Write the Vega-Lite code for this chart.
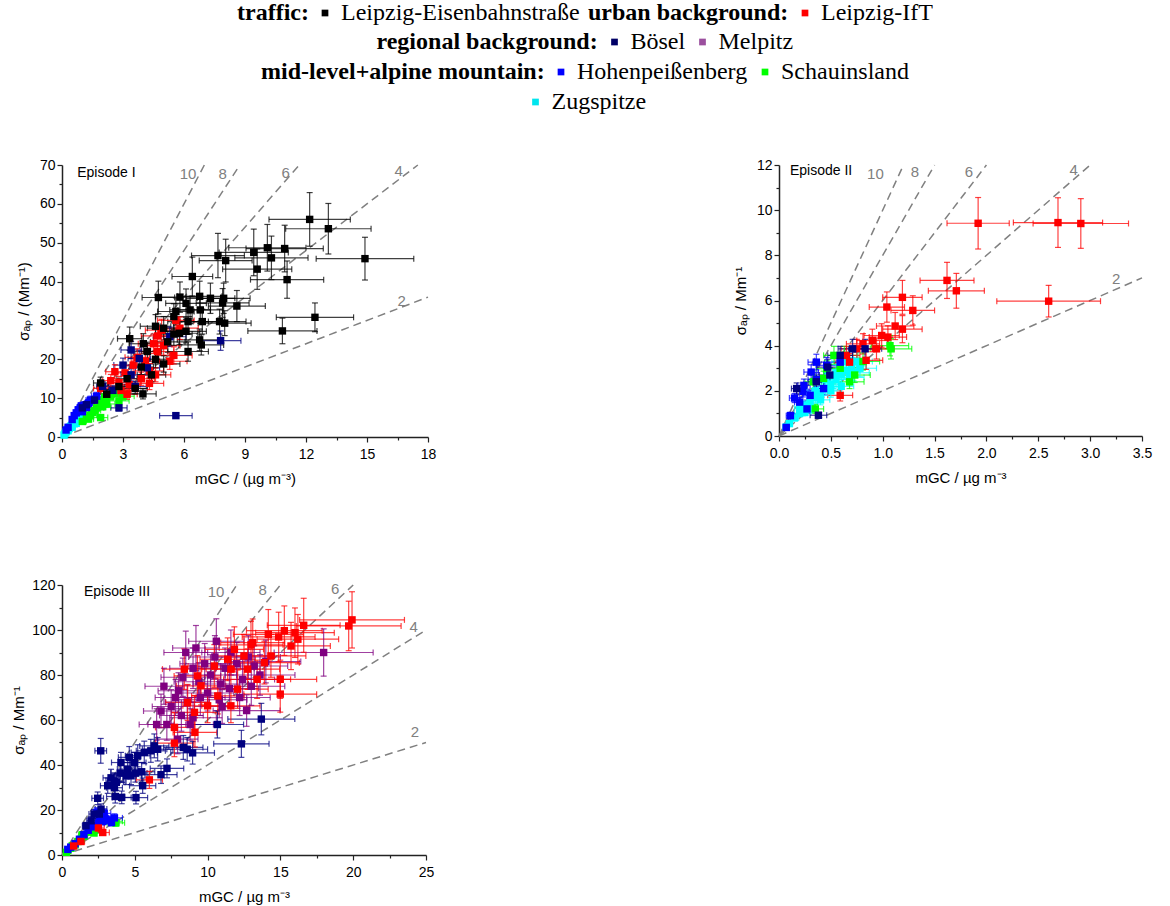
{
  "$schema": "https://vega.github.io/schema/vega-lite/v6.json",
  "padding": {"left": 11, "right": 5, "top": 1, "bottom": 5},
  "datasets": {
    "sites": [
      {"code": "LE", "site": "Leipzig-Eisenbahnstraße", "group": "traffic"},
      {"code": "LI", "site": "Leipzig-IfT", "group": "urban background"},
      {"code": "BO", "site": "Bösel", "group": "regional background"},
      {"code": "ME", "site": "Melpitz", "group": "regional background"},
      {"code": "HO", "site": "Hohenpeißenberg", "group": "mid-level+alpine mountain"},
      {"code": "SC", "site": "Schauinsland", "group": "mid-level+alpine mountain"},
      {"code": "ZU", "site": "Zugspitze", "group": "mid-level+alpine mountain"}
    ],
    "refs": [
      {"ep": 1, "k": 10, "x": 0, "y": 0, "x2": 7, "y2": 70},
      {"ep": 1, "k": 8, "x": 0, "y": 0, "x2": 8.75, "y2": 70},
      {"ep": 1, "k": 6, "x": 0, "y": 0, "x2": 11.667, "y2": 70},
      {"ep": 1, "k": 4, "x": 0, "y": 0, "x2": 17.5, "y2": 70},
      {"ep": 1, "k": 2, "x": 0, "y": 0, "x2": 18, "y2": 36},
      {"ep": 2, "k": 10, "x": 0, "y": 0, "x2": 1.2, "y2": 12},
      {"ep": 2, "k": 8, "x": 0, "y": 0, "x2": 1.5, "y2": 12},
      {"ep": 2, "k": 6, "x": 0, "y": 0, "x2": 2, "y2": 12},
      {"ep": 2, "k": 4, "x": 0, "y": 0, "x2": 3, "y2": 12},
      {"ep": 2, "k": 2, "x": 0, "y": 0, "x2": 3.5, "y2": 7},
      {"ep": 3, "k": 10, "x": 0, "y": 0, "x2": 12, "y2": 120},
      {"ep": 3, "k": 8, "x": 0, "y": 0, "x2": 15, "y2": 120},
      {"ep": 3, "k": 6, "x": 0, "y": 0, "x2": 20, "y2": 120},
      {"ep": 3, "k": 4, "x": 0, "y": 0, "x2": 25, "y2": 100},
      {"ep": 3, "k": 2, "x": 0, "y": 0, "x2": 25, "y2": 50}
    ],
    "notes": [
      {"ep": 1, "kind": "ref", "x": 6.2, "y": 67.7, "text": "10"},
      {"ep": 1, "kind": "ref", "x": 7.9, "y": 67.7, "text": "8"},
      {"ep": 1, "kind": "ref", "x": 11.0, "y": 67.9, "text": "6"},
      {"ep": 1, "kind": "ref", "x": 16.56, "y": 68.4, "text": "4"},
      {"ep": 1, "kind": "ref", "x": 16.7, "y": 35.1, "text": "2"},
      {"ep": 1, "kind": "title", "x": 0.75, "y": 67.9, "text": "Episode I"},
      {"ep": 2, "kind": "ref", "x": 0.93, "y": 11.6, "text": "10"},
      {"ep": 2, "kind": "ref", "x": 1.31, "y": 11.7, "text": "8"},
      {"ep": 2, "kind": "ref", "x": 1.83, "y": 11.7, "text": "6"},
      {"ep": 2, "kind": "ref", "x": 2.84, "y": 11.8, "text": "4"},
      {"ep": 2, "kind": "ref", "x": 3.25, "y": 6.96, "text": "2"},
      {"ep": 2, "kind": "title", "x": 0.106, "y": 11.73, "text": "Episode II"},
      {"ep": 3, "kind": "ref", "x": 10.58, "y": 116.9, "text": "10"},
      {"ep": 3, "kind": "ref", "x": 13.78, "y": 117.8, "text": "8"},
      {"ep": 3, "kind": "ref", "x": 18.77, "y": 118.1, "text": "6"},
      {"ep": 3, "kind": "ref", "x": 24.15, "y": 101.5, "text": "4"},
      {"ep": 3, "kind": "ref", "x": 24.24, "y": 54.75, "text": "2"},
      {"ep": 3, "kind": "title", "x": 1.51, "y": 116.9, "text": "Episode III"}
    ],
    "pts": [
      {"ep":1,"site":"ZU","x":0.1,"y":0.5,"xe":0.05,"ye":0.2},
      {"ep":1,"site":"ZU","x":0.15,"y":0.9,"xe":0.06,"ye":0.2},
      {"ep":1,"site":"ZU","x":0.2,"y":1.3,"xe":0.07,"ye":0.3},
      {"ep":1,"site":"ZU","x":0.25,"y":1.7,"xe":0.08,"ye":0.3},
      {"ep":1,"site":"ZU","x":0.3,"y":2.1,"xe":0.08,"ye":0.3},
      {"ep":1,"site":"ZU","x":0.35,"y":2.2,"xe":0.09,"ye":0.3},
      {"ep":1,"site":"ZU","x":0.4,"y":2.6,"xe":0.1,"ye":0.4},
      {"ep":1,"site":"ZU","x":0.45,"y":2.9,"xe":0.1,"ye":0.4},
      {"ep":1,"site":"ZU","x":0.5,"y":3.1,"xe":0.11,"ye":0.4},
      {"ep":1,"site":"ZU","x":0.55,"y":3.6,"xe":0.12,"ye":0.4},
      {"ep":1,"site":"ZU","x":0.6,"y":3.4,"xe":0.12,"ye":0.4},
      {"ep":1,"site":"ZU","x":0.65,"y":4.2,"xe":0.13,"ye":0.5},
      {"ep":1,"site":"ZU","x":0.7,"y":4.0,"xe":0.13,"ye":0.5},
      {"ep":1,"site":"ZU","x":0.75,"y":4.6,"xe":0.14,"ye":0.5},
      {"ep":1,"site":"ZU","x":0.8,"y":4.4,"xe":0.15,"ye":0.5},
      {"ep":1,"site":"ZU","x":0.85,"y":5.0,"xe":0.15,"ye":0.5},
      {"ep":1,"site":"ZU","x":0.9,"y":5.3,"xe":0.16,"ye":0.6},
      {"ep":1,"site":"ZU","x":0.3,"y":1.6,"xe":0.08,"ye":0.3},
      {"ep":1,"site":"ZU","x":0.5,"y":2.5,"xe":0.1,"ye":0.3},
      {"ep":1,"site":"ZU","x":0.7,"y":3.5,"xe":0.13,"ye":0.4},
      {"ep":1,"site":"SC","x":1.0,"y":4.0,"xe":0.2,"ye":0.5},
      {"ep":1,"site":"SC","x":1.2,"y":5.0,"xe":0.25,"ye":0.6},
      {"ep":1,"site":"SC","x":1.4,"y":5.6,"xe":0.3,"ye":0.6},
      {"ep":1,"site":"SC","x":1.5,"y":6.3,"xe":0.3,"ye":0.7},
      {"ep":1,"site":"SC","x":1.7,"y":7.5,"xe":0.35,"ye":0.8},
      {"ep":1,"site":"SC","x":1.9,"y":9.2,"xe":0.4,"ye":0.9},
      {"ep":1,"site":"SC","x":1.9,"y":5.0,"xe":0.35,"ye":0.6},
      {"ep":1,"site":"SC","x":2.1,"y":10.2,"xe":0.4,"ye":1.0},
      {"ep":1,"site":"SC","x":2.2,"y":8.5,"xe":0.4,"ye":0.9},
      {"ep":1,"site":"SC","x":2.4,"y":10.5,"xe":0.45,"ye":1.0},
      {"ep":1,"site":"SC","x":2.6,"y":11.5,"xe":0.5,"ye":1.1},
      {"ep":1,"site":"SC","x":2.8,"y":9.3,"xe":0.5,"ye":1.0},
      {"ep":1,"site":"SC","x":3.0,"y":10.5,"xe":0.55,"ye":1.0},
      {"ep":1,"site":"SC","x":1.6,"y":6.8,"xe":0.3,"ye":0.7},
      {"ep":1,"site":"SC","x":2.0,"y":7.8,"xe":0.4,"ye":0.8},
      {"ep":1,"site":"SC","x":1.3,"y":4.6,"xe":0.25,"ye":0.5},
      {"ep":1,"site":"HO","x":0.2,"y":1.8,"xe":0.06,"ye":0.3},
      {"ep":1,"site":"HO","x":0.3,"y":2.5,"xe":0.07,"ye":0.4},
      {"ep":1,"site":"HO","x":0.5,"y":4.5,"xe":0.1,"ye":0.5},
      {"ep":1,"site":"HO","x":0.6,"y":5.5,"xe":0.12,"ye":0.6},
      {"ep":1,"site":"HO","x":0.7,"y":6.2,"xe":0.13,"ye":0.7},
      {"ep":1,"site":"HO","x":0.8,"y":7.0,"xe":0.14,"ye":0.7},
      {"ep":1,"site":"HO","x":0.9,"y":7.5,"xe":0.15,"ye":0.8},
      {"ep":1,"site":"HO","x":1.0,"y":6.5,"xe":0.16,"ye":0.7},
      {"ep":1,"site":"HO","x":1.1,"y":8.2,"xe":0.17,"ye":0.8},
      {"ep":1,"site":"HO","x":1.3,"y":8.7,"xe":0.2,"ye":0.9},
      {"ep":1,"site":"HO","x":1.4,"y":9.5,"xe":0.22,"ye":1.0},
      {"ep":1,"site":"HO","x":1.7,"y":10.5,"xe":0.25,"ye":1.0},
      {"ep":1,"site":"HO","x":1.2,"y":7.6,"xe":0.18,"ye":0.8},
      {"ep":1,"site":"HO","x":0.95,"y":8.0,"xe":0.15,"ye":0.8},
      {"ep":1,"site":"LI","x":1.9,"y":12.5,"xe":0.35,"ye":1.4},
      {"ep":1,"site":"LI","x":2.4,"y":14.5,"xe":0.4,"ye":1.6},
      {"ep":1,"site":"LI","x":2.6,"y":16.8,"xe":0.45,"ye":1.8},
      {"ep":1,"site":"LI","x":2.9,"y":12.0,"xe":0.5,"ye":1.4},
      {"ep":1,"site":"LI","x":3.1,"y":16.5,"xe":0.5,"ye":1.8},
      {"ep":1,"site":"LI","x":3.3,"y":13.5,"xe":0.55,"ye":1.5},
      {"ep":1,"site":"LI","x":3.7,"y":20.5,"xe":0.6,"ye":2.2},
      {"ep":1,"site":"LI","x":3.9,"y":15.0,"xe":0.65,"ye":1.7},
      {"ep":1,"site":"LI","x":4.3,"y":13.8,"xe":0.7,"ye":1.6},
      {"ep":1,"site":"LI","x":4.3,"y":17.0,"xe":0.7,"ye":1.9},
      {"ep":1,"site":"LI","x":4.5,"y":24.0,"xe":0.75,"ye":2.5},
      {"ep":1,"site":"LI","x":4.6,"y":16.0,"xe":0.75,"ye":1.8},
      {"ep":1,"site":"LI","x":4.7,"y":22.0,"xe":0.8,"ye":2.3},
      {"ep":1,"site":"LI","x":4.7,"y":26.0,"xe":0.8,"ye":2.7},
      {"ep":1,"site":"LI","x":4.9,"y":27.5,"xe":0.8,"ye":2.8},
      {"ep":1,"site":"LI","x":5.3,"y":19.5,"xe":0.85,"ye":2.1},
      {"ep":1,"site":"LI","x":5.5,"y":21.0,"xe":0.9,"ye":2.2},
      {"ep":1,"site":"LI","x":5.8,"y":28.0,"xe":0.9,"ye":2.9},
      {"ep":1,"site":"LI","x":5.6,"y":30.0,"xe":0.9,"ye":3.0},
      {"ep":1,"site":"LI","x":3.5,"y":18.5,"xe":0.6,"ye":2.0},
      {"ep":1,"site":"LI","x":2.8,"y":14.0,"xe":0.5,"ye":1.6},
      {"ep":1,"site":"LI","x":4.1,"y":19.5,"xe":0.7,"ye":2.1},
      {"ep":1,"site":"LI","x":3.2,"y":11.0,"xe":0.5,"ye":1.3},
      {"ep":1,"site":"LI","x":5.0,"y":23.5,"xe":0.8,"ye":2.5},
      {"ep":1,"site":"BO","x":1.0,"y":7.5,"xe":0.15,"ye":0.7},
      {"ep":1,"site":"BO","x":1.2,"y":8.3,"xe":0.2,"ye":0.8},
      {"ep":1,"site":"BO","x":1.6,"y":9.5,"xe":0.25,"ye":0.9},
      {"ep":1,"site":"BO","x":2.0,"y":13.0,"xe":0.3,"ye":1.2},
      {"ep":1,"site":"BO","x":2.5,"y":12.0,"xe":0.35,"ye":1.2},
      {"ep":1,"site":"BO","x":2.8,"y":7.5,"xe":0.4,"ye":0.8},
      {"ep":1,"site":"BO","x":3.0,"y":18.5,"xe":0.45,"ye":1.8},
      {"ep":1,"site":"BO","x":3.4,"y":16.0,"xe":0.5,"ye":1.6},
      {"ep":1,"site":"BO","x":3.4,"y":22.4,"xe":0.5,"ye":2.2},
      {"ep":1,"site":"BO","x":3.6,"y":13.0,"xe":0.55,"ye":1.3},
      {"ep":1,"site":"BO","x":3.8,"y":20.2,"xe":0.55,"ye":2.0},
      {"ep":1,"site":"BO","x":4.2,"y":17.8,"xe":0.6,"ye":1.8},
      {"ep":1,"site":"BO","x":5.3,"y":25.8,"xe":0.8,"ye":2.5},
      {"ep":1,"site":"BO","x":5.6,"y":5.5,"xe":0.8,"ye":0.6},
      {"ep":1,"site":"BO","x":7.8,"y":24.8,"xe":1.0,"ye":2.5},
      {"ep":1,"site":"LE","x":1.9,"y":13.9,"xe":0.35,"ye":1.5},
      {"ep":1,"site":"LE","x":2.2,"y":11.0,"xe":0.4,"ye":1.2},
      {"ep":1,"site":"LE","x":2.8,"y":13.0,"xe":0.5,"ye":1.4},
      {"ep":1,"site":"LE","x":3.2,"y":15.0,"xe":0.5,"ye":1.6},
      {"ep":1,"site":"LE","x":3.33,"y":25.3,"xe":0.6,"ye":3.0},
      {"ep":1,"site":"LE","x":3.6,"y":12.5,"xe":0.6,"ye":1.4},
      {"ep":1,"site":"LE","x":3.9,"y":18.0,"xe":0.6,"ye":2.0},
      {"ep":1,"site":"LE","x":3.98,"y":11.1,"xe":0.65,"ye":1.3},
      {"ep":1,"site":"LE","x":4.0,"y":24.0,"xe":0.7,"ye":2.6},
      {"ep":1,"site":"LE","x":4.2,"y":22.0,"xe":0.7,"ye":2.4},
      {"ep":1,"site":"LE","x":4.4,"y":16.0,"xe":0.7,"ye":1.8},
      {"ep":1,"site":"LE","x":4.6,"y":20.0,"xe":0.75,"ye":2.2},
      {"ep":1,"site":"LE","x":4.6,"y":28.5,"xe":0.75,"ye":3.0},
      {"ep":1,"site":"LE","x":4.74,"y":35.9,"xe":0.8,"ye":4.2},
      {"ep":1,"site":"LE","x":5.0,"y":18.8,"xe":0.8,"ye":2.1},
      {"ep":1,"site":"LE","x":5.0,"y":28.0,"xe":0.8,"ye":3.0},
      {"ep":1,"site":"LE","x":5.2,"y":24.5,"xe":0.85,"ye":2.7},
      {"ep":1,"site":"LE","x":5.5,"y":26.5,"xe":0.9,"ye":2.9},
      {"ep":1,"site":"LE","x":5.5,"y":31.0,"xe":0.9,"ye":3.3},
      {"ep":1,"site":"LE","x":5.6,"y":32.3,"xe":0.9,"ye":3.5},
      {"ep":1,"site":"LE","x":5.78,"y":26.7,"xe":0.9,"ye":2.9},
      {"ep":1,"site":"LE","x":5.8,"y":36.0,"xe":0.95,"ye":3.9},
      {"ep":1,"site":"LE","x":6.1,"y":27.2,"xe":1.0,"ye":3.0},
      {"ep":1,"site":"LE","x":6.1,"y":34.4,"xe":1.0,"ye":3.7},
      {"ep":1,"site":"LE","x":6.2,"y":22.0,"xe":1.0,"ye":2.5},
      {"ep":1,"site":"LE","x":6.2,"y":29.7,"xe":1.0,"ye":3.2},
      {"ep":1,"site":"LE","x":6.3,"y":32.7,"xe":1.0,"ye":3.5},
      {"ep":1,"site":"LE","x":6.41,"y":41.3,"xe":1.0,"ye":5.0},
      {"ep":1,"site":"LE","x":6.77,"y":25.0,"xe":1.1,"ye":2.8},
      {"ep":1,"site":"LE","x":6.77,"y":36.2,"xe":1.1,"ye":3.9},
      {"ep":1,"site":"LE","x":6.8,"y":32.7,"xe":1.1,"ye":3.5},
      {"ep":1,"site":"LE","x":6.85,"y":23.7,"xe":1.1,"ye":2.6},
      {"ep":1,"site":"LE","x":6.9,"y":29.7,"xe":1.1,"ye":3.2},
      {"ep":1,"site":"LE","x":7.3,"y":35.7,"xe":1.2,"ye":3.9},
      {"ep":1,"site":"LE","x":7.67,"y":46.7,"xe":1.3,"ye":5.7},
      {"ep":1,"site":"LE","x":7.75,"y":29.7,"xe":1.3,"ye":3.2},
      {"ep":1,"site":"LE","x":7.9,"y":34.5,"xe":1.3,"ye":3.7},
      {"ep":1,"site":"LE","x":7.95,"y":35.7,"xe":1.3,"ye":3.9},
      {"ep":1,"site":"LE","x":8.0,"y":29.3,"xe":1.3,"ye":3.2},
      {"ep":1,"site":"LE","x":8.05,"y":45.4,"xe":1.3,"ye":5.5},
      {"ep":1,"site":"LE","x":8.6,"y":33.7,"xe":1.4,"ye":4.0},
      {"ep":1,"site":"LE","x":9.43,"y":47.5,"xe":1.7,"ye":6.0},
      {"ep":1,"site":"LE","x":9.6,"y":43.2,"xe":1.7,"ye":5.2},
      {"ep":1,"site":"LE","x":10.1,"y":48.7,"xe":1.9,"ye":6.0},
      {"ep":1,"site":"LE","x":10.3,"y":46.1,"xe":1.8,"ye":5.6},
      {"ep":1,"site":"LE","x":10.84,"y":27.3,"xe":1.7,"ye":3.3},
      {"ep":1,"site":"LE","x":10.95,"y":48.5,"xe":1.9,"ye":6.0},
      {"ep":1,"site":"LE","x":11.07,"y":40.5,"xe":1.8,"ye":4.8},
      {"ep":1,"site":"LE","x":12.18,"y":56.0,"xe":2.0,"ye":6.9},
      {"ep":1,"site":"LE","x":12.44,"y":30.8,"xe":1.9,"ye":3.7},
      {"ep":1,"site":"LE","x":13.1,"y":53.6,"xe":2.1,"ye":6.5},
      {"ep":1,"site":"LE","x":14.9,"y":45.9,"xe":2.4,"ye":5.5},
      {"ep":2,"site":"ZU","x":0.07,"y":0.4,"xe":0.03,"ye":0.08},
      {"ep":2,"site":"ZU","x":0.1,"y":0.55,"xe":0.03,"ye":0.1},
      {"ep":2,"site":"ZU","x":0.15,"y":0.8,"xe":0.04,"ye":0.12},
      {"ep":2,"site":"ZU","x":0.2,"y":1.0,"xe":0.05,"ye":0.15},
      {"ep":2,"site":"ZU","x":0.2,"y":1.25,"xe":0.05,"ye":0.18},
      {"ep":2,"site":"ZU","x":0.25,"y":1.05,"xe":0.06,"ye":0.15},
      {"ep":2,"site":"ZU","x":0.25,"y":1.35,"xe":0.06,"ye":0.2},
      {"ep":2,"site":"ZU","x":0.3,"y":1.5,"xe":0.07,"ye":0.22},
      {"ep":2,"site":"ZU","x":0.3,"y":1.2,"xe":0.07,"ye":0.18},
      {"ep":2,"site":"ZU","x":0.35,"y":1.7,"xe":0.08,"ye":0.25},
      {"ep":2,"site":"ZU","x":0.35,"y":2.0,"xe":0.08,"ye":0.28},
      {"ep":2,"site":"ZU","x":0.4,"y":1.6,"xe":0.09,"ye":0.22},
      {"ep":2,"site":"ZU","x":0.4,"y":1.9,"xe":0.09,"ye":0.27},
      {"ep":2,"site":"ZU","x":0.45,"y":2.1,"xe":0.1,"ye":0.3},
      {"ep":2,"site":"ZU","x":0.45,"y":2.5,"xe":0.1,"ye":0.33},
      {"ep":2,"site":"ZU","x":0.5,"y":2.0,"xe":0.1,"ye":0.28},
      {"ep":2,"site":"ZU","x":0.5,"y":2.3,"xe":0.11,"ye":0.3},
      {"ep":2,"site":"ZU","x":0.55,"y":2.5,"xe":0.12,"ye":0.32},
      {"ep":2,"site":"ZU","x":0.55,"y":2.8,"xe":0.12,"ye":0.35},
      {"ep":2,"site":"ZU","x":0.6,"y":2.2,"xe":0.12,"ye":0.3},
      {"ep":2,"site":"ZU","x":0.6,"y":2.7,"xe":0.13,"ye":0.35},
      {"ep":2,"site":"ZU","x":0.65,"y":2.9,"xe":0.13,"ye":0.37},
      {"ep":2,"site":"ZU","x":0.65,"y":3.3,"xe":0.14,"ye":0.4},
      {"ep":2,"site":"ZU","x":0.68,"y":2.6,"xe":0.14,"ye":0.35},
      {"ep":2,"site":"ZU","x":0.7,"y":3.1,"xe":0.14,"ye":0.38},
      {"ep":2,"site":"ZU","x":0.72,"y":2.8,"xe":0.15,"ye":0.36},
      {"ep":2,"site":"ZU","x":0.75,"y":3.3,"xe":0.15,"ye":0.4},
      {"ep":2,"site":"ZU","x":0.78,"y":3.0,"xe":0.16,"ye":0.38},
      {"ep":2,"site":"SC","x":0.33,"y":2.4,"xe":0.08,"ye":0.3},
      {"ep":2,"site":"SC","x":0.35,"y":1.2,"xe":0.08,"ye":0.2},
      {"ep":2,"site":"SC","x":0.43,"y":2.55,"xe":0.1,"ye":0.32},
      {"ep":2,"site":"SC","x":0.46,"y":2.98,"xe":0.1,"ye":0.35},
      {"ep":2,"site":"SC","x":0.53,"y":3.57,"xe":0.1,"ye":0.4},
      {"ep":2,"site":"SC","x":0.59,"y":3.0,"xe":0.12,"ye":0.35},
      {"ep":2,"site":"SC","x":0.63,"y":3.57,"xe":0.13,"ye":0.4},
      {"ep":2,"site":"SC","x":0.68,"y":2.4,"xe":0.14,"ye":0.3},
      {"ep":2,"site":"SC","x":0.73,"y":2.7,"xe":0.15,"ye":0.33},
      {"ep":2,"site":"SC","x":0.81,"y":3.3,"xe":0.16,"ye":0.38},
      {"ep":2,"site":"SC","x":1.07,"y":4.0,"xe":0.18,"ye":0.45},
      {"ep":2,"site":"SC","x":1.08,"y":3.86,"xe":0.2,"ye":0.45},
      {"ep":2,"site":"HO","x":0.07,"y":0.38,"xe":0.03,"ye":0.08},
      {"ep":2,"site":"HO","x":0.11,"y":0.9,"xe":0.04,"ye":0.15},
      {"ep":2,"site":"HO","x":0.15,"y":1.68,"xe":0.05,"ye":0.2},
      {"ep":2,"site":"HO","x":0.2,"y":1.5,"xe":0.05,"ye":0.2},
      {"ep":2,"site":"HO","x":0.23,"y":1.98,"xe":0.06,"ye":0.25},
      {"ep":2,"site":"HO","x":0.24,"y":2.24,"xe":0.06,"ye":0.28},
      {"ep":2,"site":"HO","x":0.27,"y":1.2,"xe":0.06,"ye":0.18},
      {"ep":2,"site":"HO","x":0.3,"y":1.8,"xe":0.07,"ye":0.24},
      {"ep":2,"site":"HO","x":0.31,"y":2.83,"xe":0.07,"ye":0.32},
      {"ep":2,"site":"HO","x":0.36,"y":2.5,"xe":0.08,"ye":0.3},
      {"ep":2,"site":"HO","x":0.36,"y":3.27,"xe":0.08,"ye":0.35},
      {"ep":2,"site":"HO","x":0.43,"y":2.1,"xe":0.09,"ye":0.27},
      {"ep":2,"site":"HO","x":0.46,"y":3.13,"xe":0.1,"ye":0.35},
      {"ep":2,"site":"HO","x":0.59,"y":3.27,"xe":0.12,"ye":0.37},
      {"ep":2,"site":"LI","x":0.59,"y":1.8,"xe":0.12,"ye":0.25},
      {"ep":2,"site":"LI","x":0.65,"y":3.57,"xe":0.13,"ye":0.4},
      {"ep":2,"site":"LI","x":0.68,"y":3.27,"xe":0.14,"ye":0.38},
      {"ep":2,"site":"LI","x":0.75,"y":3.86,"xe":0.15,"ye":0.42},
      {"ep":2,"site":"LI","x":0.81,"y":4.08,"xe":0.16,"ye":0.45},
      {"ep":2,"site":"LI","x":0.84,"y":3.35,"xe":0.16,"ye":0.4},
      {"ep":2,"site":"LI","x":0.9,"y":4.23,"xe":0.15,"ye":0.5},
      {"ep":2,"site":"LI","x":0.94,"y":3.86,"xe":0.17,"ye":0.45},
      {"ep":2,"site":"LI","x":0.99,"y":4.45,"xe":0.17,"ye":0.52},
      {"ep":2,"site":"LI","x":1.04,"y":5.71,"xe":0.17,"ye":0.67},
      {"ep":2,"site":"LI","x":1.05,"y":4.38,"xe":0.18,"ye":0.5},
      {"ep":2,"site":"LI","x":1.12,"y":4.87,"xe":0.18,"ye":0.6},
      {"ep":2,"site":"LI","x":1.19,"y":4.73,"xe":0.19,"ye":0.6},
      {"ep":2,"site":"LI","x":1.19,"y":6.14,"xe":0.19,"ye":0.75},
      {"ep":2,"site":"LI","x":1.29,"y":5.56,"xe":0.21,"ye":0.65},
      {"ep":2,"site":"LI","x":1.62,"y":6.89,"xe":0.26,"ye":0.8},
      {"ep":2,"site":"LI","x":1.71,"y":6.43,"xe":0.27,"ye":0.77},
      {"ep":2,"site":"LI","x":1.92,"y":9.42,"xe":0.3,"ye":1.14},
      {"ep":2,"site":"LI","x":2.6,"y":5.97,"xe":0.5,"ye":0.7},
      {"ep":2,"site":"LI","x":2.69,"y":9.45,"xe":0.43,"ye":1.1},
      {"ep":2,"site":"LI","x":2.91,"y":9.41,"xe":0.46,"ye":1.1},
      {"ep":2,"site":"BO","x":0.17,"y":2.1,"xe":0.05,"ye":0.25},
      {"ep":2,"site":"BO","x":0.36,"y":2.4,"xe":0.08,"ye":0.3},
      {"ep":2,"site":"BO","x":0.38,"y":0.92,"xe":0.08,"ye":0.12},
      {"ep":2,"site":"BO","x":0.47,"y":3.05,"xe":0.1,"ye":0.35},
      {"ep":2,"site":"BO","x":0.49,"y":2.7,"xe":0.1,"ye":0.32},
      {"ep":2,"site":"BO","x":0.59,"y":3.57,"xe":0.12,"ye":0.4},
      {"ep":2,"site":"BO","x":0.71,"y":3.86,"xe":0.14,"ye":0.42},
      {"ep":2,"site":"BO","x":0.83,"y":3.86,"xe":0.16,"ye":0.42},
      {"ep":3,"site":"SC","x":0.3,"y":1.2,"xe":0.06,"ye":0.3},
      {"ep":3,"site":"SC","x":0.4,"y":2.0,"xe":0.08,"ye":0.4},
      {"ep":3,"site":"SC","x":0.6,"y":3.0,"xe":0.1,"ye":0.5},
      {"ep":3,"site":"SC","x":0.7,"y":4.0,"xe":0.12,"ye":0.6},
      {"ep":3,"site":"SC","x":0.9,"y":4.5,"xe":0.15,"ye":0.7},
      {"ep":3,"site":"SC","x":1.1,"y":6.0,"xe":0.2,"ye":0.8},
      {"ep":3,"site":"SC","x":1.3,"y":7.0,"xe":0.22,"ye":0.9},
      {"ep":3,"site":"SC","x":1.4,"y":9.0,"xe":0.25,"ye":1.0},
      {"ep":3,"site":"SC","x":1.5,"y":8.3,"xe":0.25,"ye":1.0},
      {"ep":3,"site":"SC","x":2.0,"y":10.2,"xe":0.35,"ye":1.2},
      {"ep":3,"site":"SC","x":2.2,"y":9.8,"xe":0.4,"ye":1.2},
      {"ep":3,"site":"SC","x":3.6,"y":15.0,"xe":0.55,"ye":1.6},
      {"ep":3,"site":"SC","x":3.7,"y":14.3,"xe":0.6,"ye":1.5},
      {"ep":3,"site":"HO","x":0.4,"y":2.5,"xe":0.08,"ye":0.4},
      {"ep":3,"site":"HO","x":0.6,"y":3.5,"xe":0.1,"ye":0.5},
      {"ep":3,"site":"HO","x":0.9,"y":5.0,"xe":0.15,"ye":0.7},
      {"ep":3,"site":"HO","x":1.2,"y":7.0,"xe":0.2,"ye":0.9},
      {"ep":3,"site":"HO","x":1.5,"y":9.0,"xe":0.25,"ye":1.1},
      {"ep":3,"site":"HO","x":1.8,"y":11.0,"xe":0.3,"ye":1.3},
      {"ep":3,"site":"HO","x":2.0,"y":12.5,"xe":0.3,"ye":1.4},
      {"ep":3,"site":"HO","x":2.2,"y":13.0,"xe":0.35,"ye":1.5},
      {"ep":3,"site":"HO","x":2.4,"y":19.0,"xe":0.35,"ye":2.0},
      {"ep":3,"site":"HO","x":2.5,"y":14.0,"xe":0.4,"ye":1.5},
      {"ep":3,"site":"HO","x":2.6,"y":17.0,"xe":0.4,"ye":1.8},
      {"ep":3,"site":"HO","x":2.8,"y":15.0,"xe":0.45,"ye":1.6},
      {"ep":3,"site":"HO","x":2.9,"y":18.5,"xe":0.45,"ye":1.9},
      {"ep":3,"site":"HO","x":3.0,"y":16.0,"xe":0.45,"ye":1.7},
      {"ep":3,"site":"HO","x":3.2,"y":15.5,"xe":0.5,"ye":1.7},
      {"ep":3,"site":"HO","x":3.4,"y":14.5,"xe":0.5,"ye":1.6},
      {"ep":3,"site":"HO","x":3.6,"y":16.5,"xe":0.55,"ye":1.8},
      {"ep":3,"site":"ME","x":6.5,"y":58,"xe":1.2,"ye":7},
      {"ep":3,"site":"ME","x":6.8,"y":64,"xe":1.2,"ye":7.5},
      {"ep":3,"site":"ME","x":7.0,"y":75,"xe":1.3,"ye":8},
      {"ep":3,"site":"ME","x":7.2,"y":58,"xe":1.3,"ye":7},
      {"ep":3,"site":"ME","x":7.5,"y":66,"xe":1.3,"ye":7.5},
      {"ep":3,"site":"ME","x":7.8,"y":70,"xe":1.4,"ye":8},
      {"ep":3,"site":"ME","x":7.94,"y":51.5,"xe":1.4,"ye":6.5},
      {"ep":3,"site":"ME","x":8.0,"y":73,"xe":1.4,"ye":8},
      {"ep":3,"site":"ME","x":8.2,"y":62,"xe":1.5,"ye":7},
      {"ep":3,"site":"ME","x":8.3,"y":79,"xe":1.5,"ye":8.5},
      {"ep":3,"site":"ME","x":8.5,"y":90,"xe":1.5,"ye":9.5},
      {"ep":3,"site":"ME","x":8.6,"y":68,"xe":1.5,"ye":7.5},
      {"ep":3,"site":"ME","x":8.8,"y":58,"xe":1.6,"ye":7},
      {"ep":3,"site":"ME","x":9.0,"y":61,"xe":1.6,"ye":7},
      {"ep":3,"site":"ME","x":9.0,"y":83,"xe":1.6,"ye":9},
      {"ep":3,"site":"ME","x":9.2,"y":92,"xe":1.6,"ye":10},
      {"ep":3,"site":"ME","x":9.4,"y":77,"xe":1.7,"ye":8.5},
      {"ep":3,"site":"ME","x":9.5,"y":70,"xe":1.7,"ye":8},
      {"ep":3,"site":"ME","x":9.8,"y":85,"xe":1.7,"ye":9},
      {"ep":3,"site":"ME","x":10.0,"y":72,"xe":1.8,"ye":8},
      {"ep":3,"site":"ME","x":10.2,"y":80,"xe":1.8,"ye":9},
      {"ep":3,"site":"ME","x":10.5,"y":88,"xe":1.8,"ye":9.5},
      {"ep":3,"site":"ME","x":10.6,"y":95,"xe":1.9,"ye":10},
      {"ep":3,"site":"ME","x":10.8,"y":69,"xe":1.9,"ye":8},
      {"ep":3,"site":"ME","x":10.9,"y":76,"xe":1.9,"ye":8.5},
      {"ep":3,"site":"ME","x":11.0,"y":66,"xe":1.9,"ye":7.5},
      {"ep":3,"site":"ME","x":11.2,"y":83,"xe":2.0,"ye":9},
      {"ep":3,"site":"ME","x":11.5,"y":74,"xe":2.0,"ye":8.5},
      {"ep":3,"site":"ME","x":11.6,"y":90,"xe":2.0,"ye":10},
      {"ep":3,"site":"ME","x":12.0,"y":85,"xe":2.1,"ye":9.5},
      {"ep":3,"site":"ME","x":12.2,"y":70,"xe":2.1,"ye":8},
      {"ep":3,"site":"ME","x":12.4,"y":78,"xe":2.2,"ye":9},
      {"ep":3,"site":"ME","x":12.68,"y":64.2,"xe":2.3,"ye":7},
      {"ep":3,"site":"ME","x":12.8,"y":88,"xe":2.2,"ye":9.5},
      {"ep":3,"site":"ME","x":13.0,"y":75,"xe":2.3,"ye":8.5},
      {"ep":3,"site":"ME","x":13.2,"y":84,"xe":2.3,"ye":9},
      {"ep":3,"site":"ME","x":13.6,"y":80,"xe":2.4,"ye":9},
      {"ep":3,"site":"ME","x":14.0,"y":86,"xe":2.4,"ye":9.5},
      {"ep":3,"site":"ME","x":17.97,"y":90,"xe":3.4,"ye":10.5},
      {"ep":3,"site":"LI","x":0.8,"y":4,"xe":0.15,"ye":0.6},
      {"ep":3,"site":"LI","x":1.3,"y":6,"xe":0.25,"ye":0.9},
      {"ep":3,"site":"LI","x":2.5,"y":12,"xe":0.4,"ye":1.5},
      {"ep":3,"site":"LI","x":2.8,"y":10,"xe":0.45,"ye":1.3},
      {"ep":3,"site":"LI","x":6.0,"y":33.4,"xe":0.9,"ye":3.8},
      {"ep":3,"site":"LI","x":7.72,"y":49.7,"xe":1.3,"ye":6},
      {"ep":3,"site":"LI","x":7.72,"y":56.7,"xe":1.3,"ye":6.5},
      {"ep":3,"site":"LI","x":8.4,"y":82.6,"xe":1.5,"ye":9},
      {"ep":3,"site":"LI","x":8.63,"y":67.8,"xe":1.5,"ye":8},
      {"ep":3,"site":"LI","x":9.1,"y":63.4,"xe":1.6,"ye":7.5},
      {"ep":3,"site":"LI","x":9.13,"y":54.5,"xe":1.5,"ye":6.5},
      {"ep":3,"site":"LI","x":9.3,"y":79.6,"xe":1.6,"ye":9},
      {"ep":3,"site":"LI","x":9.55,"y":75.2,"xe":1.7,"ye":8.5},
      {"ep":3,"site":"LI","x":10.0,"y":66.3,"xe":1.7,"ye":7.5},
      {"ep":3,"site":"LI","x":10.46,"y":84,"xe":1.8,"ye":9.5},
      {"ep":3,"site":"LI","x":10.7,"y":70.7,"xe":1.8,"ye":8},
      {"ep":3,"site":"LI","x":11.38,"y":87,"xe":1.9,"ye":9.5},
      {"ep":3,"site":"LI","x":11.6,"y":66.3,"xe":2.0,"ye":7.5},
      {"ep":3,"site":"LI","x":11.6,"y":82.6,"xe":2.0,"ye":9},
      {"ep":3,"site":"LI","x":11.84,"y":91.4,"xe":2.0,"ye":10},
      {"ep":3,"site":"LI","x":12.06,"y":73.7,"xe":2.1,"ye":8.5},
      {"ep":3,"site":"LI","x":12.5,"y":88.5,"xe":2.1,"ye":9.5},
      {"ep":3,"site":"LI","x":12.75,"y":82.6,"xe":2.2,"ye":9},
      {"ep":3,"site":"LI","x":12.98,"y":93.4,"xe":2.2,"ye":10.5},
      {"ep":3,"site":"LI","x":13.1,"y":94.4,"xe":2.2,"ye":10.5},
      {"ep":3,"site":"LI","x":13.4,"y":78.1,"xe":2.3,"ye":8.5},
      {"ep":3,"site":"LI","x":13.9,"y":85.5,"xe":2.4,"ye":9.5},
      {"ep":3,"site":"LI","x":14.17,"y":98.1,"xe":2.4,"ye":11},
      {"ep":3,"site":"LI","x":14.35,"y":88.5,"xe":2.4,"ye":9.5},
      {"ep":3,"site":"LI","x":14.88,"y":96.9,"xe":2.5,"ye":11},
      {"ep":3,"site":"LI","x":14.99,"y":78.1,"xe":2.5,"ye":8.5},
      {"ep":3,"site":"LI","x":14.99,"y":71.5,"xe":2.5,"ye":8},
      {"ep":3,"site":"LI","x":15.27,"y":99.7,"xe":2.6,"ye":11},
      {"ep":3,"site":"LI","x":15.73,"y":92.9,"xe":2.7,"ye":10.5},
      {"ep":3,"site":"LI","x":16.0,"y":98.8,"xe":2.7,"ye":11},
      {"ep":3,"site":"LI","x":16.2,"y":95.9,"xe":2.8,"ye":11},
      {"ep":3,"site":"LI","x":16.6,"y":102.1,"xe":2.5,"ye":12},
      {"ep":3,"site":"LI","x":19.69,"y":101.8,"xe":3.6,"ye":11},
      {"ep":3,"site":"LI","x":19.92,"y":104.5,"xe":3.6,"ye":12.5},
      {"ep":3,"site":"BO","x":1.65,"y":13,"xe":0.25,"ye":1.5},
      {"ep":3,"site":"BO","x":2.0,"y":15.2,"xe":0.3,"ye":1.8},
      {"ep":3,"site":"BO","x":2.2,"y":18.2,"xe":0.35,"ye":2},
      {"ep":3,"site":"BO","x":2.45,"y":25.2,"xe":0.4,"ye":2.8},
      {"ep":3,"site":"BO","x":2.56,"y":18.2,"xe":0.4,"ye":2},
      {"ep":3,"site":"BO","x":2.66,"y":46.3,"xe":0.4,"ye":5.5},
      {"ep":3,"site":"BO","x":2.68,"y":20.4,"xe":0.4,"ye":2.3},
      {"ep":3,"site":"BO","x":3.14,"y":30.8,"xe":0.5,"ye":3.4},
      {"ep":3,"site":"BO","x":3.37,"y":34.3,"xe":0.55,"ye":3.8},
      {"ep":3,"site":"BO","x":3.6,"y":29.9,"xe":0.55,"ye":3.3},
      {"ep":3,"site":"BO","x":3.62,"y":32.8,"xe":0.6,"ye":3.6},
      {"ep":3,"site":"BO","x":3.66,"y":26,"xe":0.6,"ye":2.9},
      {"ep":3,"site":"BO","x":3.73,"y":32.3,"xe":0.6,"ye":3.6},
      {"ep":3,"site":"BO","x":4.0,"y":36.4,"xe":0.65,"ye":4},
      {"ep":3,"site":"BO","x":4.05,"y":41.1,"xe":0.65,"ye":4.5},
      {"ep":3,"site":"BO","x":4.1,"y":25.6,"xe":0.65,"ye":2.8},
      {"ep":3,"site":"BO","x":4.4,"y":35.2,"xe":0.7,"ye":3.9},
      {"ep":3,"site":"BO","x":4.5,"y":38.2,"xe":0.7,"ye":4.2},
      {"ep":3,"site":"BO","x":4.62,"y":43.4,"xe":0.75,"ye":4.8},
      {"ep":3,"site":"BO","x":4.74,"y":35.2,"xe":0.75,"ye":3.9},
      {"ep":3,"site":"BO","x":4.97,"y":41.1,"xe":0.8,"ye":4.5},
      {"ep":3,"site":"BO","x":5.04,"y":36.4,"xe":0.8,"ye":4},
      {"ep":3,"site":"BO","x":5.08,"y":25.5,"xe":0.8,"ye":2.8},
      {"ep":3,"site":"BO","x":5.2,"y":44.1,"xe":0.85,"ye":4.9},
      {"ep":3,"site":"BO","x":5.47,"y":37,"xe":0.9,"ye":4.1},
      {"ep":3,"site":"BO","x":5.54,"y":30.8,"xe":0.9,"ye":3.4},
      {"ep":3,"site":"BO","x":5.65,"y":45.6,"xe":0.9,"ye":5},
      {"ep":3,"site":"BO","x":6.1,"y":46.3,"xe":1.0,"ye":5.1},
      {"ep":3,"site":"BO","x":6.34,"y":48.5,"xe":1.0,"ye":5.3},
      {"ep":3,"site":"BO","x":6.57,"y":47,"xe":1.05,"ye":5.2},
      {"ep":3,"site":"BO","x":6.8,"y":35.7,"xe":1.1,"ye":3.9},
      {"ep":3,"site":"BO","x":7.21,"y":38.5,"xe":1.15,"ye":4.2},
      {"ep":3,"site":"BO","x":8.33,"y":47.8,"xe":1.35,"ye":5.3},
      {"ep":3,"site":"BO","x":8.6,"y":47,"xe":1.4,"ye":5.2},
      {"ep":3,"site":"BO","x":8.97,"y":45.4,"xe":1.5,"ye":5},
      {"ep":3,"site":"BO","x":10.67,"y":58,"xe":1.8,"ye":6},
      {"ep":3,"site":"BO","x":12.32,"y":49.4,"xe":1.9,"ye":6},
      {"ep":3,"site":"BO","x":13.69,"y":60.4,"xe":2.3,"ye":7}
    ]
  },
  "resolve": {"scale": {"color": "independent"}, "legend": {"color": "independent"}},
  "spacing": 92,
  "vconcat": [
    {
      "spacing": 44,
      "resolve": {"scale": {"color": "independent"}, "legend": {"color": "independent"}},
      "vconcat": [
        {
          "width": 1046,
          "height": 1,
          "data": {"name": "sites"},
          "transform": [{"filter": "false"}],
          "layer": [
            {"mark": {"type": "square", "size": 50, "opacity": 1}, "encoding": {"color": {"field": "site", "type": "nominal", "scale": {"domain": ["Leipzig-Eisenbahnstraße"], "range": ["#000000"]}, "legend": {"title": "traffic:", "orient": "top"}}}},
            {"mark": {"type": "square", "size": 50, "opacity": 1}, "encoding": {"color": {"field": "site", "type": "nominal", "scale": {"domain": ["Leipzig-IfT"], "range": ["#ff0000"]}, "legend": {"title": "urban background:", "orient": "top"}}}},
            {"mark": {"type": "square", "size": 50, "opacity": 1}, "encoding": {"color": {"field": "site", "type": "nominal", "scale": {"domain": ["Bösel", "Melpitz"], "range": ["#000066", "#9b4f9e"]}, "legend": {"title": "regional background:", "orient": "bottom"}}}},
            {"mark": {"type": "square", "size": 50, "opacity": 1}, "encoding": {"color": {"field": "site", "type": "nominal", "scale": {"domain": ["Hohenpeißenberg", "Schauinsland"], "range": ["#0000ff", "#00ff00"]}, "legend": {"title": "mid-level+alpine mountain:", "orient": "bottom"}}}},
            {"mark": {"type": "square", "size": 50, "opacity": 1}, "encoding": {"color": {"field": "site", "type": "nominal", "scale": {"domain": ["Zugspitze"], "range": ["#00e5ee"]}, "legend": {"title": null, "orient": "bottom"}}}}
          ],
          "resolve": {"scale": {"color": "independent"}, "legend": {"color": "independent"}}
        },
        {
          "spacing": 297,
          "hconcat": [
            {
              "width": 366,
              "height": 272,
              "encoding": {
                "x": {"field": "x", "type": "quantitative", "scale": {"domain": [0, 18], "nice": false},
                  "axis": {"title": "mGC / (µg m⁻³)", "values": [0,1.5,3,4.5,6,7.5,9,10.5,12,13.5,15,16.5,18], "labelExpr": "datum.value % 3 === 0 ? datum.label : ''", "tickSize": {"condition": {"test": "datum.value % 3 !== 0", "value": 3}, "value": 5}}},
                "y": {"field": "y", "type": "quantitative", "scale": {"domain": [0, 70], "nice": false},
                  "axis": {"title": "σₐₚ / (Mm⁻¹)", "values": [0,5,10,15,20,25,30,35,40,45,50,55,60,65,70], "labelExpr": "datum.value % 10 === 0 ? datum.label : ''", "tickSize": {"condition": {"test": "datum.value % 10 !== 0", "value": 3}, "value": 5}}}
              },
              "layer": [
                {"data": {"name": "refs"}, "transform": [{"filter": "datum.ep == 1"}], "mark": {"type": "rule", "color": "#808080", "strokeWidth": 1.5, "strokeDash": [8, 5]}, "encoding": {"x2": {"field": "x2"}, "y2": {"field": "y2"}}},
                {"data": {"name": "notes"}, "transform": [{"filter": "datum.ep == 1 && datum.kind == 'ref'"}], "mark": {"type": "text", "color": "#808080", "fontSize": 15, "font": "Liberation Sans"}, "encoding": {"text": {"field": "text"}}},
                {"data": {"name": "notes"}, "transform": [{"filter": "datum.ep == 1 && datum.kind == 'title'"}], "mark": {"type": "text", "color": "#000000", "fontSize": 14, "align": "left", "font": "Liberation Sans"}, "encoding": {"text": {"field": "text"}}},
                {"data": {"name": "pts"}, "transform": [{"filter": "datum.ep == 1"}], "mark": {"type": "errorbar", "ticks": true, "size": 6, "thickness": 1.2, "opacity": 0.75}, "encoding": {"xError": {"field": "xe"}, "color": {"field": "site", "type": "nominal", "scale": {"domain": ["LE","LI","BO","ME","HO","SC","ZU"], "range": ["#000000","#ff0000","#000080","#800080","#0000ff","#00ff00","#00ffff"]}, "legend": null}}},
                {"data": {"name": "pts"}, "transform": [{"filter": "datum.ep == 1"}], "mark": {"type": "errorbar", "ticks": true, "size": 6, "thickness": 1.2, "opacity": 0.75}, "encoding": {"yError": {"field": "ye"}, "color": {"field": "site", "type": "nominal", "scale": {"domain": ["LE","LI","BO","ME","HO","SC","ZU"], "range": ["#000000","#ff0000","#000080","#800080","#0000ff","#00ff00","#00ffff"]}, "legend": null}}},
                {"data": {"name": "pts"}, "transform": [{"filter": "datum.ep == 1"}], "mark": {"type": "square", "size": 55, "opacity": 1}, "encoding": {"color": {"field": "site", "type": "nominal", "scale": {"domain": ["LE","LI","BO","ME","HO","SC","ZU"], "range": ["#000000","#ff0000","#000080","#800080","#0000ff","#00ff00","#00ffff"]}, "legend": null}}}
              ]
            },
            {
              "width": 363,
              "height": 271,
              "encoding": {
                "x": {"field": "x", "type": "quantitative", "scale": {"domain": [0, 3.5], "nice": false},
                  "axis": {"title": "mGC / µg m⁻³", "format": ".1f", "values": [0,0.25,0.5,0.75,1,1.25,1.5,1.75,2,2.25,2.5,2.75,3,3.25,3.5], "labelExpr": "datum.value % 0.5 === 0 ? datum.label : ''", "tickSize": {"condition": {"test": "datum.value % 0.5 !== 0", "value": 3}, "value": 5}}},
                "y": {"field": "y", "type": "quantitative", "scale": {"domain": [0, 12], "nice": false},
                  "axis": {"title": "σₐₚ / Mm⁻¹", "values": [0,1,2,3,4,5,6,7,8,9,10,11,12], "labelExpr": "datum.value % 2 === 0 ? datum.label : ''", "tickSize": {"condition": {"test": "datum.value % 2 !== 0", "value": 3}, "value": 5}}}
              },
              "layer": [
                {"data": {"name": "refs"}, "transform": [{"filter": "datum.ep == 2"}], "mark": {"type": "rule", "color": "#808080", "strokeWidth": 1.5, "strokeDash": [8, 5]}, "encoding": {"x2": {"field": "x2"}, "y2": {"field": "y2"}}},
                {"data": {"name": "notes"}, "transform": [{"filter": "datum.ep == 2 && datum.kind == 'ref'"}], "mark": {"type": "text", "color": "#808080", "fontSize": 15, "font": "Liberation Sans"}, "encoding": {"text": {"field": "text"}}},
                {"data": {"name": "notes"}, "transform": [{"filter": "datum.ep == 2 && datum.kind == 'title'"}], "mark": {"type": "text", "color": "#000000", "fontSize": 14, "align": "left", "font": "Liberation Sans"}, "encoding": {"text": {"field": "text"}}},
                {"data": {"name": "pts"}, "transform": [{"filter": "datum.ep == 2"}], "mark": {"type": "errorbar", "ticks": true, "size": 6, "thickness": 1.2, "opacity": 0.75}, "encoding": {"xError": {"field": "xe"}, "color": {"field": "site", "type": "nominal", "scale": {"domain": ["LE","LI","BO","ME","HO","SC","ZU"], "range": ["#000000","#ff0000","#000080","#800080","#0000ff","#00ff00","#00ffff"]}, "legend": null}}},
                {"data": {"name": "pts"}, "transform": [{"filter": "datum.ep == 2"}], "mark": {"type": "errorbar", "ticks": true, "size": 6, "thickness": 1.2, "opacity": 0.75}, "encoding": {"yError": {"field": "ye"}, "color": {"field": "site", "type": "nominal", "scale": {"domain": ["LE","LI","BO","ME","HO","SC","ZU"], "range": ["#000000","#ff0000","#000080","#800080","#0000ff","#00ff00","#00ffff"]}, "legend": null}}},
                {"data": {"name": "pts"}, "transform": [{"filter": "datum.ep == 2"}], "mark": {"type": "square", "size": 55, "opacity": 1}, "encoding": {"color": {"field": "site", "type": "nominal", "scale": {"domain": ["LE","LI","BO","ME","HO","SC","ZU"], "range": ["#000000","#ff0000","#000080","#800080","#0000ff","#00ff00","#00ffff"]}, "legend": null}}}
              ]
            }
          ]
        }
      ]
    },
    {
      "width": 364,
      "height": 270,
      "encoding": {
        "x": {"field": "x", "type": "quantitative", "scale": {"domain": [0, 25], "nice": false},
          "axis": {"title": "mGC / µg m⁻³", "values": [0,2.5,5,7.5,10,12.5,15,17.5,20,22.5,25], "labelExpr": "datum.value % 5 === 0 ? datum.label : ''", "tickSize": {"condition": {"test": "datum.value % 5 !== 0", "value": 3}, "value": 5}}},
        "y": {"field": "y", "type": "quantitative", "scale": {"domain": [0, 120], "nice": false},
          "axis": {"title": "σₐₚ / Mm⁻¹", "titlePadding": 5, "values": [0,10,20,30,40,50,60,70,80,90,100,110,120], "labelExpr": "datum.value % 20 === 0 ? datum.label : ''", "tickSize": {"condition": {"test": "datum.value % 20 !== 0", "value": 3}, "value": 5}}}
      },
      "layer": [
        {"data": {"name": "refs"}, "transform": [{"filter": "datum.ep == 3"}], "mark": {"type": "rule", "color": "#808080", "strokeWidth": 1.5, "strokeDash": [8, 5]}, "encoding": {"x2": {"field": "x2"}, "y2": {"field": "y2"}}},
        {"data": {"name": "notes"}, "transform": [{"filter": "datum.ep == 3 && datum.kind == 'ref'"}], "mark": {"type": "text", "color": "#808080", "fontSize": 15, "font": "Liberation Sans"}, "encoding": {"text": {"field": "text"}}},
        {"data": {"name": "notes"}, "transform": [{"filter": "datum.ep == 3 && datum.kind == 'title'"}], "mark": {"type": "text", "color": "#000000", "fontSize": 14, "align": "left", "font": "Liberation Sans"}, "encoding": {"text": {"field": "text"}}},
        {"data": {"name": "pts"}, "transform": [{"filter": "datum.ep == 3"}], "mark": {"type": "errorbar", "ticks": true, "size": 6, "thickness": 1.2, "opacity": 0.75}, "encoding": {"xError": {"field": "xe"}, "color": {"field": "site", "type": "nominal", "scale": {"domain": ["LE","LI","BO","ME","HO","SC","ZU"], "range": ["#000000","#ff0000","#000080","#800080","#0000ff","#00ff00","#00ffff"]}, "legend": null}}},
        {"data": {"name": "pts"}, "transform": [{"filter": "datum.ep == 3"}], "mark": {"type": "errorbar", "ticks": true, "size": 6, "thickness": 1.2, "opacity": 0.75}, "encoding": {"yError": {"field": "ye"}, "color": {"field": "site", "type": "nominal", "scale": {"domain": ["LE","LI","BO","ME","HO","SC","ZU"], "range": ["#000000","#ff0000","#000080","#800080","#0000ff","#00ff00","#00ffff"]}, "legend": null}}},
        {"data": {"name": "pts"}, "transform": [{"filter": "datum.ep == 3"}], "mark": {"type": "square", "size": 55, "opacity": 1}, "encoding": {"color": {"field": "site", "type": "nominal", "scale": {"domain": ["LE","LI","BO","ME","HO","SC","ZU"], "range": ["#000000","#ff0000","#000080","#800080","#0000ff","#00ff00","#00ffff"]}, "legend": null}}}
      ]
    }
  ],
  "config": {
    "view": {"stroke": null},
    "font": "Liberation Sans",
    "axis": {
      "grid": false,
      "domainColor": "#222222",
      "domainWidth": 1.5,
      "tickColor": "#222222",
      "tickWidth": 1.2,
      "labelFont": "Liberation Sans",
      "labelFontSize": 14,
      "labelColor": "#000000",
      "labelOverlap": false,
      "labelFlush": false,
      "titleFont": "Liberation Sans",
      "titleFontSize": 15,
      "titleFontWeight": "normal",
      "titleColor": "#000000"
    },
    "axisX": {"labelPadding": 5, "titlePadding": 10},
    "axisY": {"labelPadding": 2, "titlePadding": 8},
    "legend": {
      "titleFont": "Liberation Serif",
      "titleFontSize": 24,
      "titleFontWeight": "bold",
      "titleColor": "#000000",
      "labelFont": "Liberation Serif",
      "labelFontSize": 24,
      "labelColor": "#000000",
      "titleOrient": "left",
      "direction": "horizontal",
      "symbolType": "square",
      "symbolSize": 45,
      "symbolStrokeWidth": 0,
      "symbolOpacity": 1,
      "labelLimit": 600,
      "titleLimit": 600,
      "columnPadding": 5,
      "labelOffset": 4,
      "titlePadding": 4,
      "offset": 2,
      "padding": 0,
      "layout": {
        "top": {"anchor": "middle", "margin": 8},
        "bottom": {"anchor": "middle", "direction": "vertical", "center": true, "margin": 6}
      }
    }
  }
}
